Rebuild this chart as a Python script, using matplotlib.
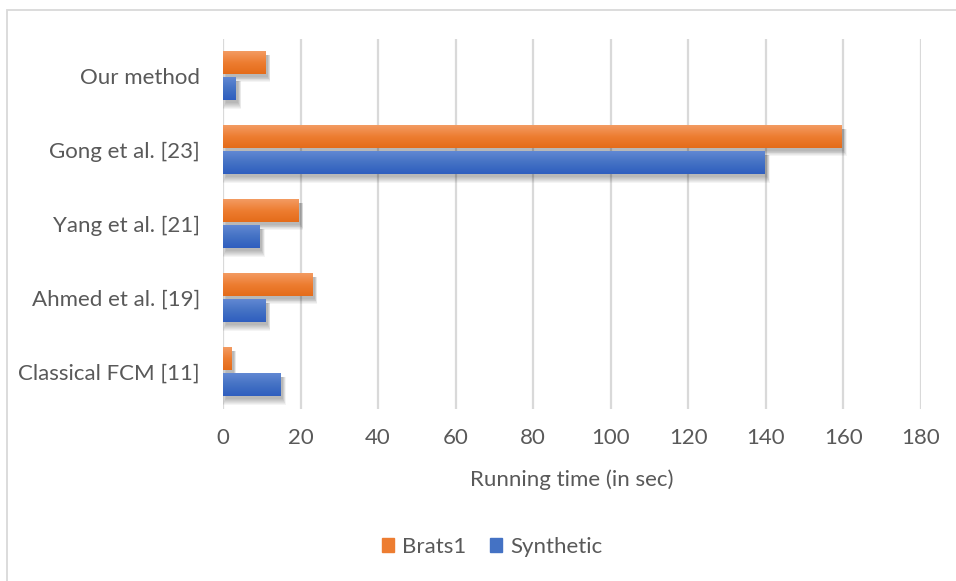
import numpy as np
import matplotlib
matplotlib.use("Agg")
import matplotlib.pyplot as plt
from matplotlib.patches import Rectangle
from matplotlib.colors import LinearSegmentedColormap
import matplotlib.transforms as mtransforms

# Data (categories listed bottom to top)
categories = ["Classical FCM [11]", "Ahmed et al. [19]", "Yang et al. [21]",
              "Gong et al. [23]", "Our method"]
brats1 = [2.1, 23.0, 19.4, 159.5, 10.9]
synthetic = [14.8, 10.9, 9.4, 139.7, 3.3]
x_ticks = list(range(0, 181, 20))
series_names = ["Brats1", "Synthetic"]

TEXT = "#595959"
GRID = "#d9d9d9"
ORANGE = "#ED7D31"
BLUE = "#4472C4"
FS = 16

plt.rcParams["font.family"] = ["Lato", "DejaVu Sans"]

W, H = 956, 581
fig = plt.figure(figsize=(W / 100, H / 100), dpi=100)
ax = fig.add_axes([223 / W, 1 - 409 / H, (921 - 223) / W, (409 - 39) / H])

y = np.arange(len(categories))
h = 0.30
off = 0.18
bars_o = ax.barh(y + off, brats1, height=h, color=ORANGE, zorder=3)
bars_b = ax.barh(y - off, synthetic, height=h, color=BLUE, zorder=3)

orange_cmap = LinearSegmentedColormap.from_list("o", ["#F39B62", ORANGE, "#E46C1A"])
blue_cmap = LinearSegmentedColormap.from_list("b", ["#6188D3", BLUE, "#2F5EBF"])
grad = np.linspace(0, 1, 64).reshape(-1, 1)


def decorate(patch, cmap):
    x0, y0 = patch.get_x(), patch.get_y()
    w, hh = patch.get_width(), patch.get_height()
    # soft drop shadow: stacked translucent layers growing outward
    for i in range(7):
        grow = i * 0.9
        tr = mtransforms.offset_copy(ax.transData, fig=fig, x=2.5 - grow / 2,
                                     y=-(3.0 + grow / 2), units="dots")
        dx = grow / 3.87
        dy = grow / 74.0
        ax.add_patch(Rectangle((x0, y0 - dy / 2), w + dx, hh + dy,
                               facecolor="black", alpha=0.045, lw=0,
                               transform=tr, zorder=2))
    ax.imshow(grad, cmap=cmap, aspect="auto", origin="upper",
              extent=(x0, x0 + w, y0, y0 + hh), zorder=4)


for p in bars_o:
    decorate(p, orange_cmap)
for p in bars_b:
    decorate(p, blue_cmap)

ax.set_xlim(0, 180)
ax.set_ylim(-0.5, len(categories) - 0.5)
ax.set_xticks(x_ticks)
ax.set_yticks(y)
ax.set_yticklabels(categories)
ax.grid(axis="x", color=GRID, linewidth=1.6, zorder=0)
ax.set_axisbelow(True)
for s in ax.spines.values():
    s.set_visible(False)
ax.tick_params(length=0, colors=TEXT, labelsize=FS)
ax.tick_params(axis="y", pad=16.5)
ax.tick_params(axis="x", pad=14)

fig.text((223 + 921) / 2 / W, 1 - 480 / H, "Running time (in sec)", color=TEXT,
         fontsize=FS, ha="center", va="center")

handles = [Rectangle((0, 0), 1, 1, color=ORANGE), Rectangle((0, 0), 1, 1, color=BLUE)]
fig.legend(handles, series_names, loc="center", bbox_to_anchor=(492 / W, 1 - 547 / H),
           ncol=2, frameon=False, fontsize=FS, labelcolor=TEXT,
           handlelength=0.55, handleheight=0.55, handletextpad=0.35, columnspacing=1.1)

# chart frame
fig.patches.append(Rectangle((7 / W, -0.1), 1.2, 1 - 10 / H + 0.1,
                             transform=fig.transFigure, fill=False,
                             edgecolor=GRID, linewidth=1.3))

fig.savefig("out.png", dpi=100)
